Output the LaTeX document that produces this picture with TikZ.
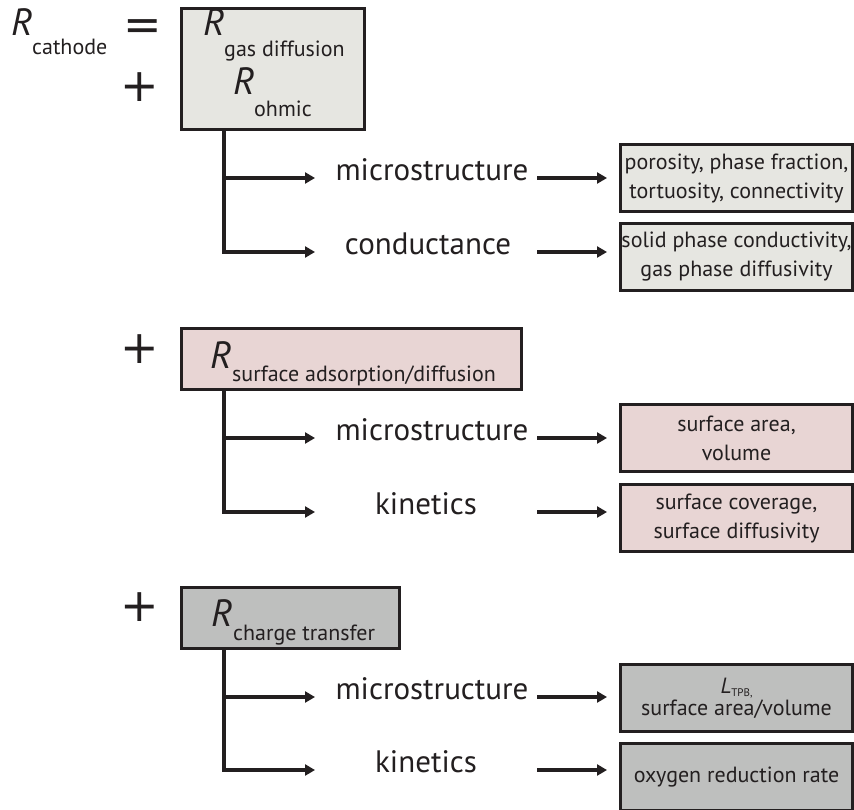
\documentclass[tikz,border=0pt]{standalone}
\usepackage{fontspec}
\setmainfont{PT Sans}
\newfontfamily\symfont{DejaVu Sans}
\usetikzlibrary{arrows.meta}
\definecolor{ink}{RGB}{35,31,32}
\definecolor{fillA}{RGB}{230,230,225}
\definecolor{fillB}{RGB}{232,213,212}
\definecolor{fillC}{RGB}{190,191,190}
\newcommand{\fsz}[1]{\fontsize{#1}{#1}\selectfont}
\begin{document}
\begin{tikzpicture}[x=1pt,y=-1pt,
  mainbox/.style={draw=ink, line width=3pt, inner sep=0pt, anchor=north west},
  parbox/.style={draw=ink, line width=3pt, anchor=north west, minimum width=232pt,
    minimum height=67pt, inner sep=0pt, text=ink, align=center,
    font=\fontsize{22}{29}\selectfont},
  rtxt/.style={anchor=base west, inner sep=0pt, text=ink, font=\fsz{38}\itshape},
  stxt/.style={anchor=base west, inner sep=0pt, text=ink, font=\fsz{22}},
  lbl/.style={inner sep=0pt, text=ink, font=\fsz{31}, text height=0.5em, text depth=0pt},
  sym/.style={inner sep=0pt, text=ink, font=\symfont\fsz{46}, text height=0.64em, text depth=0pt},
  arr/.style={draw=ink, line width=4pt, -{Triangle[length=10pt,width=11pt]}},
]
\useasboundingbox (0,0) rectangle (854,810);

% ---------- group 1 ----------
\node[rtxt] (rc) at (11,36) {R};
\node[stxt] (rcs) at (32,55) {cathode};
\node[sym] (eq) at (143,37) {=};
\node[sym] (p1) at (140,98) {+};
\node[mainbox, fill=fillA, minimum width=183pt, minimum height=121pt] (b1) at (180,7) {};
\node[rtxt] (rg) at (203,36) {R};
\node[stxt] (rgs) at (224,57) {gas diffusion};
\node[rtxt] (ro) at (233,95) {R};
\node[stxt] (ros) at (254,117) {ohmic};

\node[lbl] (m1) at (432,178) {microstructure};
\node[lbl] (k1) at (428,252) {conductance};
\node[parbox, fill=fillA] (pA) at (619,143) {porosity, phase fraction,\\tortuosity, connectivity};
\node[parbox, fill=fillA] (pB) at (619,222) {solid phase conductivity,\\gas phase diffusivity};

\coordinate (t1) at ([xshift=44pt]b1.south west);
\coordinate (e1a) at (315,178);
\coordinate (e1b) at (315,252);
\coordinate (s1a) at (537,178);
\coordinate (s1b) at (537,252);
\draw[arr] (t1) |- (e1b);
\draw[arr] (t1 |- e1a) -- (e1a);
\draw[arr, shorten >=12pt] (s1a) -- (s1a -| pA.west);
\draw[arr, shorten >=12pt] (s1b) -- (s1b -| pB.west);

% ---------- group 2 ----------
\node[sym] (p2) at (140,360) {+};
\node[mainbox, fill=fillB, minimum width=340pt, minimum height=61pt] (b2) at (180,327) {};
\node[rtxt] (rs) at (210,368) {R};
\node[stxt] (rss) at (232,381) {surface adsorption/diffusion};

\node[lbl] (m2) at (432,438) {microstructure};
\node[lbl] (k2) at (426,512) {kinetics};
\node[parbox, fill=fillB] (pC) at (619,403) {surface area,\\volume};
\node[parbox, fill=fillB] (pD) at (619,483) {surface coverage,\\surface diffusivity};

\coordinate (t2) at ([xshift=44pt]b2.south west);
\coordinate (e2a) at (315,438);
\coordinate (e2b) at (315,512);
\coordinate (s2a) at (537,438);
\coordinate (s2b) at (537,512);
\draw[arr] (t2) |- (e2b);
\draw[arr] (t2 |- e2a) -- (e2a);
\draw[arr, shorten >=12pt] (s2a) -- (s2a -| pC.west);
\draw[arr, shorten >=12pt] (s2b) -- (s2b -| pD.west);

% ---------- group 3 ----------
\node[sym] (p3) at (140,618) {+};
\node[mainbox, fill=fillC, minimum width=218pt, minimum height=61pt] (b3) at (180,586) {};
\node[rtxt] (rt) at (211,626) {R};
\node[stxt] (rts) at (233,640) {charge transfer};

\node[lbl] (m3) at (432,697) {microstructure};
\node[lbl] (k3) at (426,770) {kinetics};
\node[parbox, fill=fillC] (pE) at (619,663) {\textit{L}{\fsz{11}\raisebox{-3pt}{TPB,}}\\[-7pt]surface area/volume};
\node[parbox, fill=fillC] (pF) at (619,742) {oxygen reduction rate};

\coordinate (t3) at ([xshift=44pt]b3.south west);
\coordinate (e3a) at (315,697);
\coordinate (e3b) at (315,770);
\coordinate (s3a) at (537,697);
\coordinate (s3b) at (537,770);
\draw[arr] (t3) |- (e3b);
\draw[arr] (t3 |- e3a) -- (e3a);
\draw[arr, shorten >=12pt] (s3a) -- (s3a -| pE.west);
\draw[arr, shorten >=12pt] (s3b) -- (s3b -| pF.west);
\end{tikzpicture}
\end{document}
